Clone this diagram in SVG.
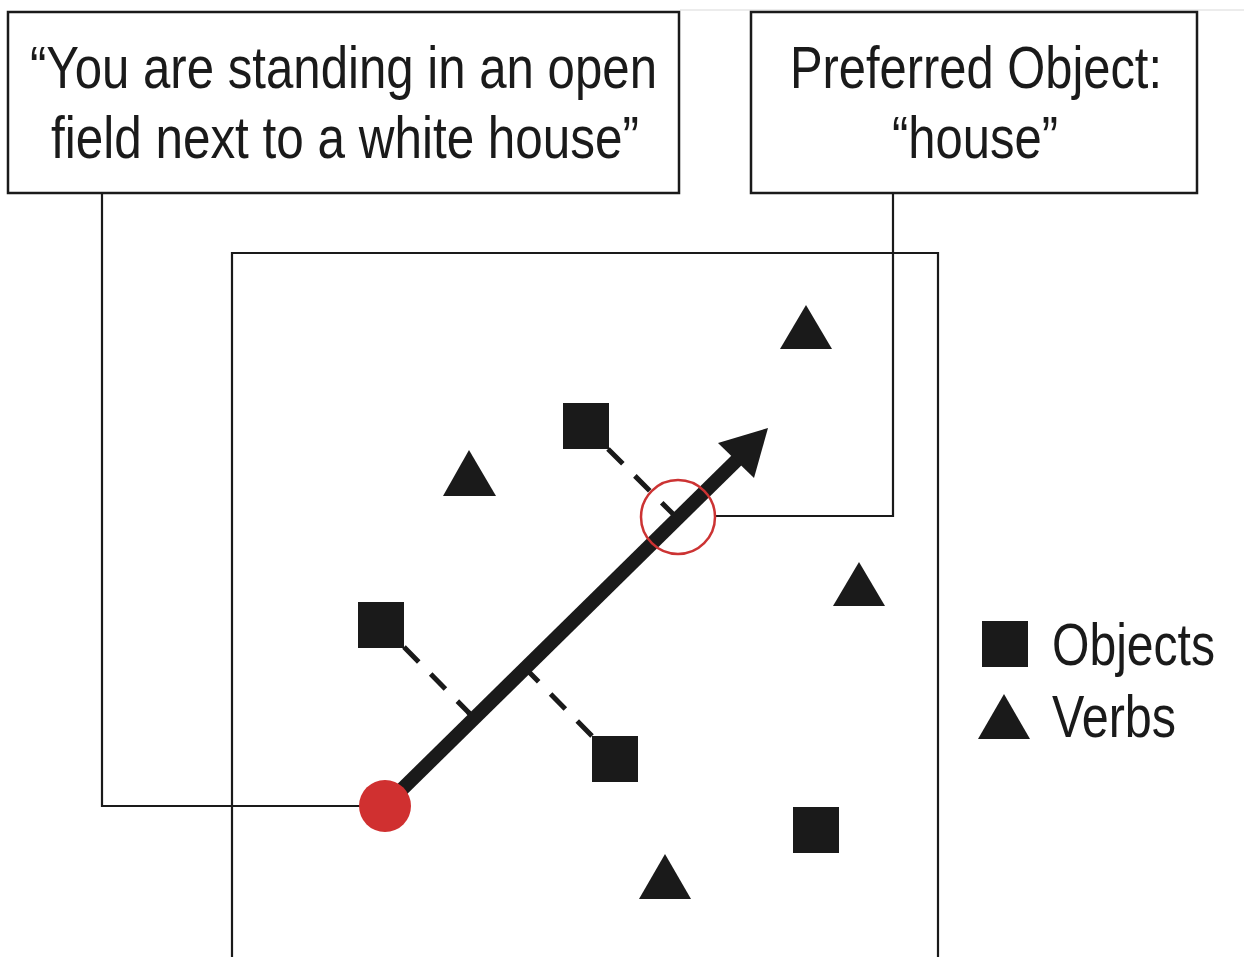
<svg xmlns="http://www.w3.org/2000/svg" width="1244" height="957" viewBox="0 0 1244 957">
  <style>
    .box { fill: #ffffff; stroke: #1a1a1a; stroke-width: 2.5; }
    .lbl { font-family: "Liberation Sans Narrow", "Liberation Sans", Arial, sans-serif; font-size: 60px; fill: #1a1a1a; text-anchor: middle; }
    .leg { font-family: "Liberation Sans Narrow", "Liberation Sans", Arial, sans-serif; font-size: 60px; fill: #1a1a1a; }
    .wire { fill: none; stroke: #1a1a1a; stroke-width: 2.2; }
    .obj { fill: #1a1a1a; }
    .dash { fill: none; stroke: #1a1a1a; stroke-width: 5; stroke-dasharray: 21 17; }
    .tick { fill: none; stroke: #1a1a1a; stroke-width: 5; }
  </style>
  <rect width="1244" height="957" fill="#ffffff"/>
  <line x1="680" y1="10" x2="1244" y2="10" stroke="#e6e6e6" stroke-width="1.5"/>

  <!-- embedding space frame -->
  <g id="space">
    <path d="M232,960 V253 H938 V960" class="wire" stroke-width="2.5"/>
  </g>

  <!-- connectors -->
  <g id="connectors">
    <path class="wire" d="M102,193 V806 H385"/>
    <path class="wire" d="M893,193 V516 H716"/>
    <!-- projections of objects onto the direction -->
    <line class="dash" x1="404" y1="647" x2="474" y2="718"/>
    <line class="tick" x1="468" y1="712" x2="476" y2="720"/>
    <line class="dash" x1="592" y1="736" x2="525" y2="668"/>
    <line class="dash" x1="608" y1="449" x2="677" y2="518"/>
    <!-- direction arrow -->
    <line x1="385" y1="806" x2="740" y2="457" stroke="#1a1a1a" stroke-width="14"/>
    <polygon points="768,428 718,443 754,478" fill="#1a1a1a"/>
  </g>

  <g id="text-box">
    <rect class="box" x="8" y="12" width="671" height="181"/>
    <text class="lbl" x="343.5" y="88" textLength="627" lengthAdjust="spacingAndGlyphs">“You are standing in an open</text>
    <text class="lbl" x="345" y="158" textLength="588" lengthAdjust="spacingAndGlyphs">field next to a white house”</text>
  </g>

  <g id="preferred-box">
    <rect class="box" x="751" y="12" width="446" height="181"/>
    <text class="lbl" x="976" y="88" textLength="372" lengthAdjust="spacingAndGlyphs">Preferred Object:</text>
    <text class="lbl" x="975" y="158" textLength="166" lengthAdjust="spacingAndGlyphs">“house”</text>
  </g>

  <g id="start-point">
    <circle cx="385" cy="806" r="26" fill="#d03030"/>
  </g>

  <g id="selected-point">
    <circle cx="678" cy="517" r="37" fill="none" stroke="#cc3333" stroke-width="2.5"/>
  </g>

  <g id="objects">
    <rect class="obj" x="563" y="403" width="46" height="46"/>
    <rect class="obj" x="358" y="602" width="46" height="46"/>
    <rect class="obj" x="592" y="736" width="46" height="46"/>
    <rect class="obj" x="793" y="807" width="46" height="46"/>
  </g>

  <g id="verbs">
    <polygon class="obj" points="806,305 780,349 832,349"/>
    <polygon class="obj" points="469,450 443,496 496,496"/>
    <polygon class="obj" points="859,562 833,606 885,606"/>
    <polygon class="obj" points="665,854 639,899 691,899"/>
  </g>

  <g id="legend">
    <rect class="obj" x="982" y="621" width="46" height="46"/>
    <text class="leg" x="1052" y="665" textLength="163" lengthAdjust="spacingAndGlyphs">Objects</text>
    <polygon class="obj" points="1004,694 978,739 1030,739"/>
    <text class="leg" x="1052" y="737" textLength="124" lengthAdjust="spacingAndGlyphs">Verbs</text>
  </g>
</svg>
